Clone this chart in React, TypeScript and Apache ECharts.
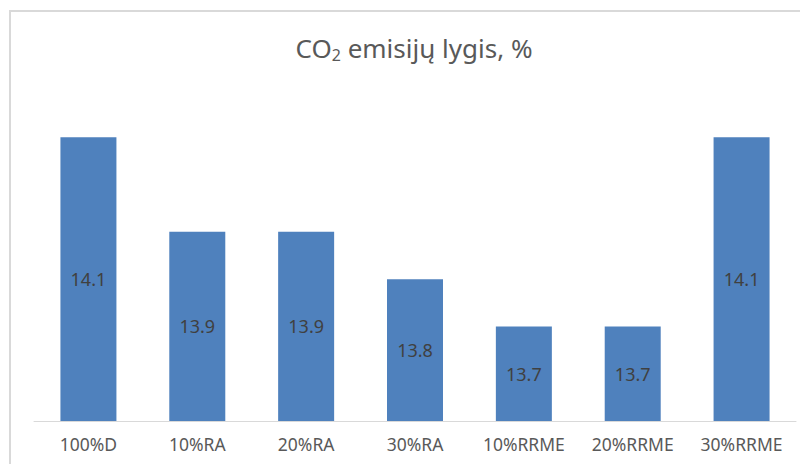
import React, { useEffect, useRef } from "react";
import * as echarts from "echarts";

const categories = ["100%D", "10%RA", "20%RA", "30%RA", "10%RRME", "20%RRME", "30%RRME"];
const values = [14.1, 13.9, 13.9, 13.8, 13.7, 13.7, 14.1];

const FONT = "'Noto Sans', 'Open Sans', sans-serif";

export default function App() {
  const ref = useRef<HTMLDivElement>(null);

  useEffect(() => {
    if (!ref.current) return;
    const chart = echarts.init(ref.current, undefined, { renderer: "svg" });
    chart.setOption({
      animation: false,
      backgroundColor: "#ffffff",
      graphic: [
        {
          type: "rect",
          silent: true,
          shape: { x: 2, y: 3, width: 1000, height: 1000 },
          style: { fill: "none", stroke: "#d9d9d9", lineWidth: 2 },
        },
        {
          type: "text",
          x: 406,
          y: 40,
          style: {
            text: "{a|CO}{s|2}{a| emisijų lygis, %}",
            align: "center",
            verticalAlign: "middle",
            rich: {
              a: { fontSize: 26, fontFamily: FONT, fill: "#595959", color: "#595959" },
              s: {
                fontSize: 16,
                fontFamily: FONT,
                fill: "#595959",
                color: "#595959",
                padding: [14, 0, 0, 0],
              },
            },
          },
        },
      ],
      grid: { left: 26, right: 12, top: 82, bottom: 43 },
      xAxis: {
        type: "category",
        data: categories,
        axisLine: { lineStyle: { color: "#d9d9d9", width: 1 } },
        axisTick: { show: false },
        axisLabel: { color: "#595959", fontSize: 17.5, fontFamily: FONT, margin: 14 },
      },
      yAxis: {
        type: "value",
        min: 13.5,
        max: 14.2,
        show: false,
        splitLine: { show: false },
      },
      series: [
        {
          type: "bar",
          data: values,
          barWidth: 56,
          itemStyle: { color: "#4f81bd" },
          label: {
            show: true,
            position: "inside",
            color: "#404040",
            fontSize: 18,
            fontFamily: FONT,
            formatter: (p: any) => p.value.toFixed(1),
          },
        },
      ],
    });
    return () => chart.dispose();
  }, []);

  return <div ref={ref} style={{ width: 800, height: 456 }} />;
}
